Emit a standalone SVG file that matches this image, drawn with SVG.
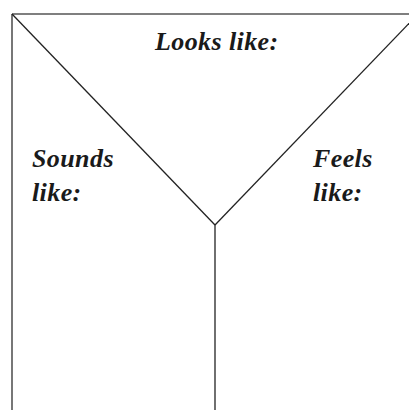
<svg xmlns="http://www.w3.org/2000/svg" width="409" height="410" viewBox="0 0 409 410">
<style>
.t{font-family:"Liberation Serif","DejaVu Serif",serif;font-style:italic;font-weight:bold;font-size:26px;letter-spacing:0.4px;fill:#1a1a1a}
.l{stroke:#222;stroke-width:1.3;fill:none}
.g{stroke:#555;stroke-width:1.6;fill:none}
</style>
<rect width="409" height="410" fill="#fff"/>
<g id="connectors">
<line class="g" x1="12" y1="14" x2="409" y2="14"/>
<line class="g" x1="12" y1="14" x2="12" y2="410"/>
<line class="l" x1="12" y1="14" x2="215" y2="225"/>
<line class="l" x1="418" y1="14" x2="215" y2="225"/>
<line class="l" x1="215" y1="225" x2="215" y2="410"/>
</g>
<g id="looks"><text class="t" x="155" y="50">Looks like:</text></g>
<g id="sounds"><text class="t" x="32" y="167">Sounds</text><text class="t" x="32" y="201">like:</text></g>
<g id="feels"><text class="t" x="313" y="167">Feels</text><text class="t" x="313" y="201">like:</text></g>
</svg>
